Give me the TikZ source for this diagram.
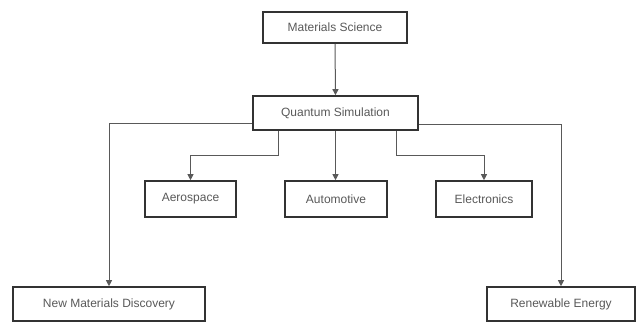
\documentclass[tikz,border=0pt]{standalone}
\usepackage{fontspec}
\setmainfont{Liberation Sans}
\usetikzlibrary{arrows.meta}
\begin{document}
\begin{tikzpicture}[x=1pt,y=-1pt,
  box/.style={draw=black!80, line width=1.6pt, fill=white, inner sep=0pt,
    font=\fontsize{12}{14}\selectfont, text=black!65},
  conn/.style={draw=black!65, line width=1pt, -{Triangle[length=6pt,width=6pt]}}]
\useasboundingbox (0,0) rectangle (637,323);
\node[box, minimum width=144pt, minimum height=31pt] (MS) at (335,27.5) {Materials Science};
\node[box, minimum width=165pt, minimum height=34pt] (QS) at (335.5,113) {Quantum Simulation};
\node[box, minimum width=91pt, minimum height=36pt] (A) at (190.5,199) {Aerospace};
\node[box, minimum width=102pt, minimum height=36pt] (Au) at (336,199) {Automotive};
\node[box, minimum width=96pt, minimum height=36pt] (E) at (484,199) {Electronics};
\node[box, minimum width=192pt, minimum height=34pt] (N) at (109,304) {New Materials Discovery};
\node[box, minimum width=148pt, minimum height=34pt] (R) at (561,304) {Renewable Energy};
\draw[conn] (MS.south) -- (QS.north);
\draw[conn] ([yshift=-11pt]QS.west) -| (N.north);
\draw[conn] ([yshift=-12pt]QS.east) -| (R.north);
\draw[conn] ([xshift=-57.5pt]QS.south) -- ++(0,25) -| (A.north);
\draw[conn] (QS.south) -- (QS.south |- Au.north);
\draw[conn] ([xshift=60.5pt]QS.south) -- ++(0,25) -| (E.north);
\end{tikzpicture}
\end{document}
